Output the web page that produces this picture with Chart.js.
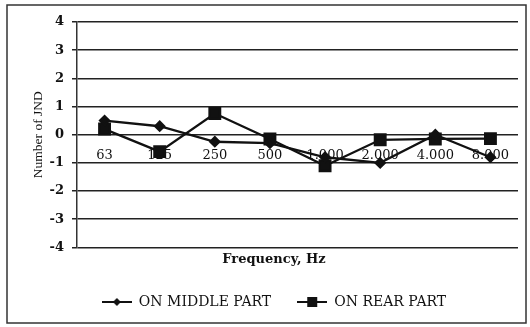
<!DOCTYPE html>
<html>
<head>
<meta charset="utf-8">
<script src="https://cdn.jsdelivr.net/npm/chart.js@4"></script>
<style>
  html, body { margin: 0; padding: 0; background: #fff; }
  #wrap { width: 530px; height: 327px; }
</style>
</head>
<body>
<div id="wrap"><canvas id="jndChart" width="530" height="327"></canvas></div>
<script>
const frequencies = ["63", "125", "250", "500", "1.000", "2.000", "4.000", "8.000"];
const middlePart = [0.5, 0.3, -0.25, -0.3, -0.8, -1.0, 0.0, -0.8];
const rearPart = [0.2, -0.6, 0.75, -0.15, -1.1, -0.18, -0.15, -0.14];
const yTicks = [-4, -3, -2, -1, 0, 1, 2, 3, 4];

const ink = "#111";
const serif = "'DejaVu Serif', 'Liberation Serif', serif";
const narrowSerif = "'Liberation Serif', serif";

// little legend glyphs: line with the marker in the middle
function legendGlyph(style) {
  const c = document.createElement("canvas");
  c.width = 30;
  c.height = 12;
  const g = c.getContext("2d");
  g.strokeStyle = ink;
  g.fillStyle = ink;
  g.lineWidth = 2;
  g.beginPath();
  g.moveTo(0, 6);
  g.lineTo(30, 6);
  g.stroke();
  g.beginPath();
  if (style === "diamond") {
    g.moveTo(15, 2);
    g.lineTo(19, 6);
    g.lineTo(15, 10);
    g.lineTo(11, 6);
  } else {
    g.rect(10, 1, 10, 10);
  }
  g.closePath();
  g.fill();
  return c;
}

// outer frame around the whole figure
const framePlugin = {
  id: "frame",
  afterDraw(chart) {
    const ctx = chart.ctx;
    ctx.save();
    ctx.strokeStyle = "#333";
    ctx.lineWidth = 1.5;
    ctx.strokeRect(7, 5, 519, 318);
    ctx.restore();
  },
};

new Chart(document.getElementById("jndChart"), {
  type: "line",
  data: {
    labels: frequencies,
    datasets: [
      {
        label: "ON MIDDLE PART",
        data: middlePart,
        borderColor: ink,
        backgroundColor: ink,
        borderWidth: 2.3,
        pointStyle: "rectRot",
        pointRadius: 4.5,
        tension: 0,
      },
      {
        label: "ON REAR PART",
        data: rearPart,
        borderColor: ink,
        backgroundColor: ink,
        borderWidth: 2.3,
        pointStyle: "rect",
        pointRadius: 7.5,
        tension: 0,
      },
    ],
  },
  options: {
    responsive: false,
    animation: false,
    layout: { padding: { left: 30, right: 12, top: 22, bottom: 8 } },
    scales: {
      x: {
        type: "category",
        offset: true,
        position: { y: 0 },
        grid: { display: false, drawTicks: false },
        border: { display: false },
        ticks: {
          color: ink,
          padding: 13,
          maxRotation: 0,
          autoSkip: false,
          font: { family: serif, size: 13 },
        },
      },
      y: {
        min: -4,
        max: 4,
        afterBuildTicks: (scale) => {
          scale.ticks = yTicks.map((v) => ({ value: v }));
        },
        afterFit: (scale) => {
          scale.width = 47;
        },
        grid: { color: "#222", lineWidth: 1.5, tickLength: 5 },
        border: { display: true, color: "#333", width: 1.5 },
        ticks: {
          color: ink,
          padding: 8,
          font: { family: serif, size: 13, weight: "bold" },
        },
        title: {
          display: true,
          text: "Number of JND",
          color: ink,
          padding: { top: 0, bottom: 0 },
          font: { family: narrowSerif, size: 13.5 },
        },
      },
    },
    plugins: {
      title: {
        display: true,
        position: "bottom",
        weight: 500,
        text: "Frequency, Hz",
        color: ink,
        padding: { top: 4, bottom: 2 },
        font: { family: serif, size: 13, weight: "bold" },
      },
      legend: {
        position: "bottom",
        labels: {
          color: ink,
          usePointStyle: true,
          pointStyleWidth: 30,
          padding: 26,
          font: { family: serif, size: 14 },
          generateLabels: (chart) =>
            chart.data.datasets.map((ds, i) => ({
              text: ds.label,
              pointStyle: legendGlyph(i === 0 ? "diamond" : "square"),
              fillStyle: ink,
              strokeStyle: ink,
              lineWidth: 0,
              datasetIndex: i,
              fontColor: ink,
            })),
        },
      },
      tooltip: { enabled: false },
    },
  },
  plugins: [framePlugin],
});
</script>
</body>
</html>
